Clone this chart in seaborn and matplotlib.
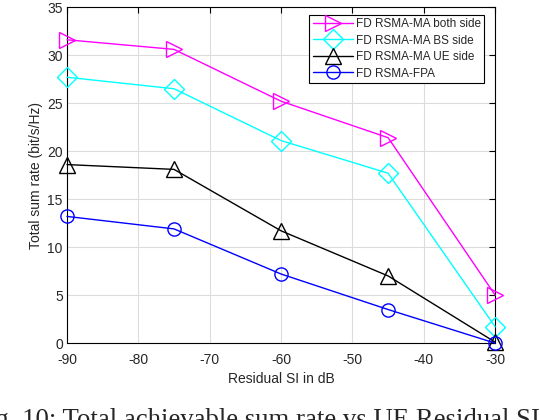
import matplotlib
matplotlib.use("Agg")
import matplotlib.pyplot as plt
import seaborn as sns
import pandas as pd

# residual SI (dB) and total sum rate (bit/s/Hz) per scheme
si_db = [-90, -75, -60, -45, -30]
both_side = [31.6, 30.6, 25.2, 21.4, 5.0]
bs_side = [27.7, 26.5, 21.1, 17.7, 1.7]
ue_side = [18.6, 18.1, 11.7, 7.0, 0.1]
fpa = [13.2, 11.9, 7.2, 3.5, 0.0]

labels = ["FD RSMA-MA both side", "FD RSMA-MA BS side", "FD RSMA-MA UE side", "FD RSMA-FPA"]
series = [both_side, bs_side, ue_side, fpa]
colors = ["#ff00ff", "#00ffff", "#000000", "#0000ff"]
markers = [">", "D", "^", "o"]
msizes = [11, 10, 11, 9.5]

sns.set_style("whitegrid")
plt.rcParams['font.family'] = ['Liberation Sans', 'DejaVu Sans']
plt.rcParams['axes.unicode_minus'] = False

fig = plt.figure(figsize=(5.4, 4.2), dpi=100)
ax = fig.add_axes([0.124, 0.183, 0.793, 0.8])

for lab, vals, c, m, ms in zip(labels, series, colors, markers, msizes):
    df = pd.DataFrame({"SI": si_db, "rate": vals})
    sns.lineplot(data=df, x="SI", y="rate", ax=ax, color=c, marker=m, markersize=ms,
                 mfc="none", mec=c, mew=1.0, linewidth=1.0, label=lab, clip_on=False, zorder=3)

ax.set_xlim(-90, -30)
ax.set_ylim(0, 35)
ax.set_xticks(range(-90, -29, 10))
ax.set_yticks(range(0, 36, 5))
ax.grid(True, color="#dcdcdc", linewidth=0.8)
for s in ax.spines.values():
    s.set_visible(True)
    s.set_color("black")
    s.set_linewidth(0.8)
ax.tick_params(direction="in", length=4, width=0.8, top=True, right=True,
               labelsize=10, colors="black", labelcolor="#262626")
ax.tick_params(axis="x", pad=7)
ax.tick_params(axis="y", pad=3)
ax.set_xlabel("Residual SI in dB", fontsize=10, color="#262626", labelpad=4)
ax.set_ylabel("Total sum rate (bit/s/Hz)", fontsize=10, color="#262626", labelpad=3)

leg = ax.legend(loc="upper right", bbox_to_anchor=(0.974, 0.978), fontsize=8.5, frameon=True,
                fancybox=False, edgecolor="black", framealpha=1, handlelength=3.4,
                borderpad=0.3, labelspacing=0.38, handletextpad=0.2, borderaxespad=0)
leg.get_frame().set_linewidth(0.8)

fig.text(-0.05, -0.017, "Fig. 10: Total achievable sum rate vs UE Residual SI",
         family=["Liberation Serif"], fontsize=19.3, ha="left", va="baseline")

fig.savefig("out.png", dpi=100)
